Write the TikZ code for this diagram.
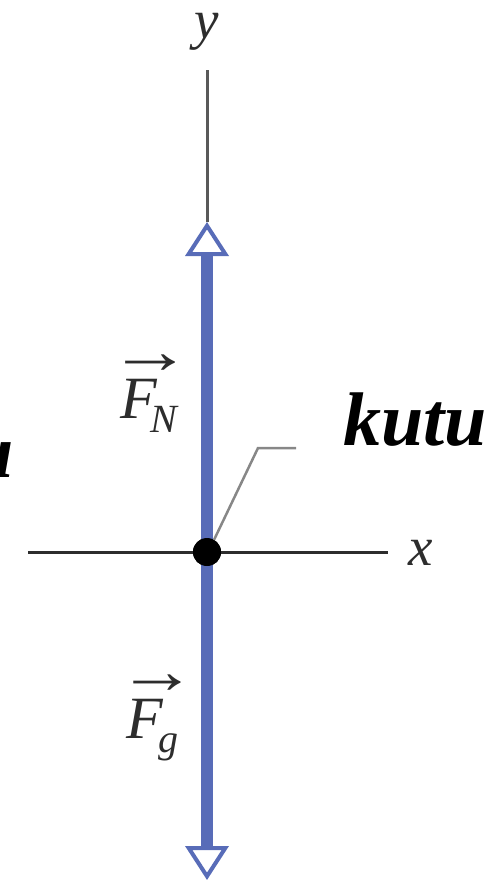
\documentclass[tikz,border=0pt]{standalone}
\usepackage{amsmath}
\usepackage{fontspec}
\setmainfont{Liberation Serif}
\usetikzlibrary{arrows.meta,positioning,calc}
\definecolor{forceblue}{RGB}{88,108,184}
\definecolor{labelgray}{RGB}{45,45,45}
\definecolor{leadgray}{RGB}{135,135,135}

\begin{document}
\begin{tikzpicture}[x=1pt, y=-1pt,
  axis/.style={line width=3pt, draw=labelgray},
  force/.style={line width=12pt, draw=forceblue, -{Triangle[open, fill=white, length=34pt, width=43pt, line width=4pt]}},
  lbl/.style={text=labelgray, inner sep=0pt, font=\fontsize{60}{72}\selectfont},
  axlbl/.style={lbl, font=\fontsize{55}{66}\selectfont},
  word/.style={inner sep=0pt, font=\fontsize{76}{90}\selectfont\bfseries\itshape}
]
\clip (0,0) rectangle (498,886);
\coordinate (ytop) at (207,70);
\coordinate (yend) at (207,222);
\coordinate (gend) at (207,880);
\coordinate (xleft) at (28,552);
\coordinate (xright) at (388,552);
\coordinate (bend) at (258,448);
\coordinate (leadend) at (296,448);
\node[circle, fill=black, minimum size=28pt, inner sep=0pt] (box) at (207,552) {};

\draw[axis, draw=black!65] (ytop) -- (yend);
\draw[axis] (xleft) -- (xright);
\draw[force] (box.center) -- (yend);
\draw[force] (box.center) -- (gend);
\node[circle, fill=black, minimum size=28pt, inner sep=0pt] at (box) {};
\draw[leadgray, line width=2.5pt] (box.60) -- (bend) -- (leadend);

\node[axlbl, anchor=base] (ylbl) at (207,38) {\textit{y}};
\node[axlbl, anchor=base] (xlbl) at (421,565) {\textit{x}};
\node[lbl, anchor=base west] (fn) at (120,418) {\rlap{\kern-12pt\raisebox{45pt}{\scalebox{1.4}[1.1]{\symbol{"2192}}}}\textit{F}\kern-7pt\raisebox{-14pt}{\fontsize{40}{40}\selectfont\textit{N}}};
\node[lbl, anchor=base west] (fg) at (126,738) {\rlap{\kern-9pt\raisebox{45pt}{\scalebox{1.33}[1.1]{\symbol{"2192}}}}\textit{F}\kern-5pt\raisebox{-14pt}{\fontsize{40}{40}\selectfont\textit{g}}};

\node[word, anchor=base west] (kutu) at (343,445) {kutu};
\node[word, anchor=base east] (cut) at (14,477) {u};
\end{tikzpicture}
\end{document}
